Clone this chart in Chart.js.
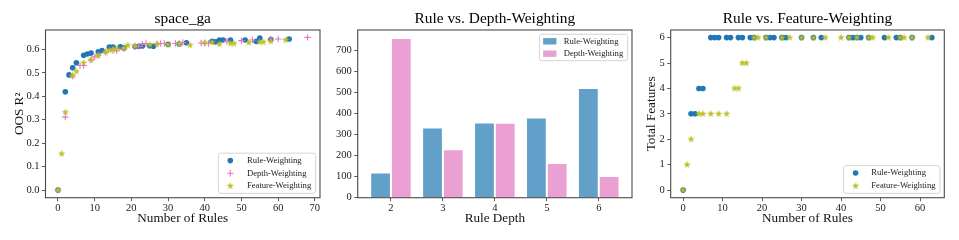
<!DOCTYPE html>
<html><head><meta charset="utf-8">
<script src="https://cdn.jsdelivr.net/npm/chart.js@4.4.0/dist/chart.umd.min.js"></script>
<style>
html,body{margin:0;padding:0;background:#fff;}
#wrap{position:relative;width:959px;height:240px;overflow:hidden;background:#fff;}
canvas{position:absolute;left:0;top:0;}
</style></head><body>
<div id="wrap">
<canvas id="c1" width="959" height="240"></canvas>
<canvas id="c2" width="959" height="240"></canvas>
<canvas id="c3" width="959" height="240"></canvas>
</div>
<script>
// ---------- data ----------
const ruleX   = [0,2,3,4,5,7,8,9,11,12,14,15,17,18,21,22,23,25,26,30,33,35,42,43,44,45,47,51,54,55,58,63];
const ruleR2  = [0,0.419,0.491,0.521,0.543,0.575,0.580,0.584,0.590,0.595,0.610,0.610,0.611,0.606,0.612,0.613,0.614,0.615,0.613,0.621,0.623,0.628,0.634,0.632,0.640,0.640,0.640,0.640,0.634,0.648,0.642,0.644];
const ruleFeat= [0,3,3,4,4,6,6,6,6,6,6,6,6,6,6,6,6,6,6,6,6,6,6,6,6,6,6,6,6,6,6,6];

const depthX  = [0,2,4,6,7,9,10,11,13,15,16,18,21,22,23,24,27,28,29,32,33,34,39,40,41,46,50,53,58,60,68];
const depthR2 = [0,0.311,0.486,0.531,0.531,0.554,0.568,0.575,0.587,0.595,0.594,0.603,0.612,0.612,0.622,0.625,0.622,0.625,0.625,0.625,0.625,0.629,0.627,0.625,0.625,0.634,0.637,0.640,0.644,0.644,0.651];

const featX   = [0,1,2,4,5,7,9,11,13,14,15,16,18,19,21,25,27,30,33,36,40,42,44,47,48,52,55,56,58,62];
const featR2  = [0,0.155,0.332,0.488,0.506,0.543,0.556,0.574,0.588,0.597,0.600,0.603,0.605,0.617,0.615,0.620,0.623,0.620,0.622,0.618,0.629,0.630,0.622,0.625,0.625,0.629,0.631,0.631,0.634,0.640];
const featFeat= [0,1,2,3,3,3,3,3,4,4,5,5,6,6,6,6,6,6,6,6,6,6,6,6,6,6,6,6,6,6];

const depthCats   = [2,3,4,5,6];
const ruleCounts  = [120,333,357,380,520];
const depthCounts = [757,230,355,165,103];

const xTicks1 = [0,10,20,30,40,50,60,70];
const yTicks1 = [0,0.1,0.2,0.3,0.4,0.5,0.6];
const yTicks2 = [0,100,200,300,400,500,600,700];
const xTicks3 = [0,10,20,30,40,50,60];
const yTicks3 = [0,1,2,3,4,5,6];

// ---------- style ----------
const BLUE='#1f77b4', PINK='#e377c2', OLIVE='#bcbd22';
const FAM='"Liberation Serif", "Times New Roman", serif';
Chart.defaults.font.family = FAM;
Chart.defaults.color = '#222';

function starImg(color, R){
  const s = Math.ceil(R*2+2);
  const c = document.createElement('canvas'); c.width=s; c.height=s;
  const g = c.getContext('2d'); g.translate(s/2, s/2);
  g.beginPath();
  for(let i=0;i<10;i++){ const r = i%2 ? R*0.382 : R; const a = -Math.PI/2 + i*Math.PI/5; g.lineTo(r*Math.cos(a), r*Math.sin(a)); }
  g.closePath(); g.fillStyle=color; g.fill();
  return c;
}
const STAR = starImg(OLIVE, 3.9);

const framePlugin = { id:'frame', afterDatasetsDraw(chart){
  const a=chart.chartArea, g=chart.ctx; g.save(); g.strokeStyle='#4a4a4a'; g.lineWidth=1.1;
  g.strokeRect(a.left, a.top, a.right-a.left, a.bottom-a.top); g.restore(); } };

const boxLegend = { id:'boxLegend', afterDraw(chart, args, o){
  if(!o || !o.items) return;
  const g=chart.ctx, a=chart.chartArea;
  g.save(); g.font = '8.6px '+FAM;
  const tw = Math.max(...o.items.map(it=>g.measureText(it.label).width));
  const w = o.textX + tw + 4.5, h = 2*o.padV + (o.items.length-1)*o.rowH;
  const x = a.right - 4.3 - w;
  const y = o.pos==='top' ? a.top + 4.3 : a.bottom - 4.3 - h;
  g.beginPath(); g.roundRect(x, y, w, h, 2.5);
  g.fillStyle='rgba(255,255,255,0.85)'; g.fill(); g.strokeStyle='#d0d0d0'; g.lineWidth=0.9; g.stroke();
  o.items.forEach((it,i)=>{
    const cy = y + o.padV + i*o.rowH, mx = x + o.markerX;
    if(it.type==='circle'){ g.beginPath(); g.arc(mx, cy, 2.8, 0, Math.PI*2); g.fillStyle=it.color; g.fill(); }
    else if(it.type==='cross'){ g.beginPath(); g.moveTo(mx-3.2,cy); g.lineTo(mx+3.2,cy); g.moveTo(mx,cy-3.2); g.lineTo(mx,cy+3.2); g.strokeStyle=it.color; g.lineWidth=1.1; g.stroke(); }
    else if(it.type==='star'){ g.drawImage(STAR, mx-STAR.width/2, cy-STAR.height/2); }
    else if(it.type==='rect'){ g.fillStyle=it.color; g.fillRect(x+3.7, cy-3.2, 13.3, 6.4); }
    g.fillStyle='#222'; g.textBaseline='middle'; g.textAlign='left';
    g.fillText(it.label, x + o.textX, cy);
  });
  g.restore(); } };

function tickOpts(cb){ return { font:{family:FAM, size:10.5}, color:'#222', autoSkip:false, maxRotation:0, callback:cb }; }
function gridOpts(){ return { display:true, drawOnChartArea:false, drawTicks:true, tickLength:3.5, color:'#333', lineWidth:0.8 }; }
function setTicks(arr){ return s=>{ s.ticks = arr.map(v=>({value:v})); }; }
function titleOpts(t){ return { display:true, text:t, font:{family:FAM, size:15.4, weight:'normal'}, color:'#000', padding:{top:9.5,bottom:2}, fullSize:false }; }
function xAxis(min,max,ticks,label,cb){
  return { type:'linear', min, max, offset:false, afterBuildTicks:setTicks(ticks), afterFit:s=>{s.height=42.3;},
    ticks:Object.assign(tickOpts(cb),{padding:0.5}), grid:Object.assign(gridOpts(),{offset:false}), border:{display:false},
    title:{display:true, text:label, font:{family:FAM, size:13.2}, color:'#111', padding:{top:0,bottom:14}} };
}
function yAxis(min,max,ticks,width,label,tpad,cb){
  return { type:'linear', min, max, afterBuildTicks:setTicks(ticks), afterFit:s=>{s.width=width;},
    ticks:Object.assign(tickOpts(cb),{padding:2.5}), grid:gridOpts(), border:{display:false},
    title:{display:!!label, text:label||'', font:{family:FAM, size:13.2}, color:'#111', padding:{top:tpad,bottom:0}} };
}
const pts = (xs,ys)=>xs.map((x,i)=>({x, y:ys[i]}));
const base = { responsive:false, animation:false, devicePixelRatio:1, events:[] };

// ---------- chart 1 ----------
new Chart(document.getElementById('c1'), {
  type:'scatter',
  data:{ datasets:[
    { label:'Rule-Weighting', data:pts(ruleX,ruleR2), pointStyle:'circle', pointRadius:2.8, backgroundColor:BLUE, borderWidth:0, order:3 },
    { label:'Depth-Weighting', data:pts(depthX,depthR2), pointStyle:'cross', pointRadius:3.2, borderColor:PINK, backgroundColor:PINK, borderWidth:1.1, order:2 },
    { label:'Feature-Weighting', data:pts(featX,featR2), pointStyle:STAR, pointRadius:3, backgroundColor:OLIVE, borderWidth:0, order:1 }
  ]},
  options:Object.assign({}, base, {
    layout:{ padding:{left:0, right:639, top:0, bottom:0} },
    scales:{ x:xAxis(-3.4,71.4,xTicks1,'Number of Rules',v=>String(v)),
             y:yAxis(-0.0325,0.6825,yTicks1,45.5,'OOS R²',12,v=>v.toFixed(1)) },
    plugins:{ legend:{display:false}, tooltip:{enabled:false}, title:titleOpts('space_ga'),
      boxLegend:{ pos:'bottom', padV:7.4, rowH:12.7, markerX:12, textX:28.7, items:[
        {label:'Rule-Weighting', type:'circle', color:BLUE},
        {label:'Depth-Weighting', type:'cross', color:PINK},
        {label:'Feature-Weighting', type:'star', color:OLIVE}] } }
  }),
  plugins:[framePlugin, boxLegend]
});

// ---------- chart 2 ----------
new Chart(document.getElementById('c2'), {
  type:'bar',
  data:{ datasets:[
    { label:'Rule-Weighting', data:pts(depthCats,ruleCounts), backgroundColor:'rgba(31,119,180,0.7)', borderColor:'rgba(255,255,255,0.6)', borderWidth:1, categoryPercentage:0.8, barPercentage:1.0 },
    { label:'Depth-Weighting', data:pts(depthCats,depthCounts), backgroundColor:'rgba(227,119,194,0.7)', borderColor:'rgba(255,255,255,0.6)', borderWidth:1, categoryPercentage:0.8, barPercentage:1.0 }
  ]},
  options:Object.assign({}, base, {
    layout:{ padding:{left:332.7, right:327, top:0, bottom:0} },
    scales:{ x:xAxis(1.36,6.64,depthCats,'Rule Depth',v=>String(v)),
             y:yAxis(0,795,yTicks2,25,'',0,v=>String(v)) },
    plugins:{ legend:{display:false}, tooltip:{enabled:false}, title:titleOpts('Rule vs. Depth-Weighting'),
      boxLegend:{ pos:'top', padV:7.0, rowH:12.4, markerX:10, textX:24.3, items:[
        {label:'Rule-Weighting', type:'rect', color:'rgba(31,119,180,0.7)'},
        {label:'Depth-Weighting', type:'rect', color:'rgba(227,119,194,0.7)'}] } }
  }),
  plugins:[framePlugin, boxLegend]
});

// ---------- chart 3 ----------
new Chart(document.getElementById('c3'), {
  type:'scatter',
  data:{ datasets:[
    { label:'Rule-Weighting', data:pts(ruleX,ruleFeat), pointStyle:'circle', pointRadius:2.8, backgroundColor:BLUE, borderWidth:0, order:2 },
    { label:'Feature-Weighting', data:pts(featX,featFeat), pointStyle:STAR, pointRadius:3, backgroundColor:OLIVE, borderWidth:0, order:1 }
  ]},
  options:Object.assign({}, base, {
    layout:{ padding:{left:640.7, right:14.7, top:0, bottom:0} },
    scales:{ x:xAxis(-3.15,66.15,xTicks3,'Number of Rules',v=>String(v)),
             y:yAxis(-0.3,6.3,yTicks3,30,'Total Features',3.1,v=>String(v)) },
    plugins:{ legend:{display:false}, tooltip:{enabled:false}, title:titleOpts('Rule vs. Feature-Weighting'),
      boxLegend:{ pos:'bottom', padV:7.4, rowH:13, markerX:12, textX:27.7, items:[
        {label:'Rule-Weighting', type:'circle', color:BLUE},
        {label:'Feature-Weighting', type:'star', color:OLIVE}] } }
  }),
  plugins:[framePlugin, boxLegend]
});
</script>
</body></html>
